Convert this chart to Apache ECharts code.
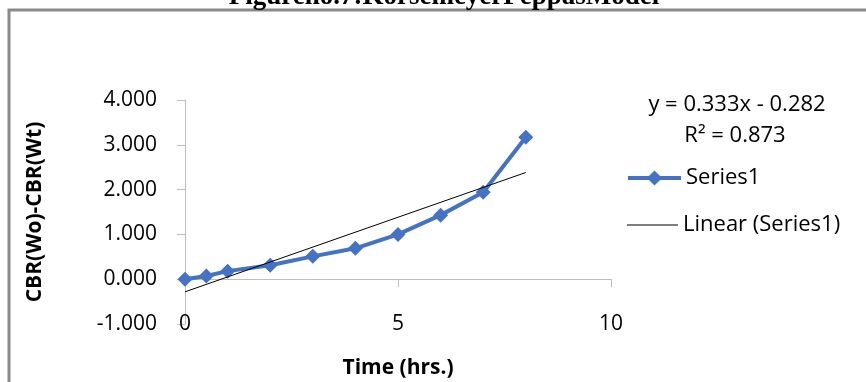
<!DOCTYPE html>
<html>
<head>
<meta charset="utf-8">
<script src="https://cdn.jsdelivr.net/npm/echarts@6/dist/echarts.min.js"></script>
<style>
  html, body { margin: 0; padding: 0; background: #fff; }
  #chart { width: 866px; height: 382px; }
</style>
</head>
<body>
<div id="chart"></div>
<script>
// data
var timeHrs = [0, 0.5, 1, 2, 3, 4, 5, 6, 7, 8];//x
var cbrDiff = [0, 0.07, 0.18, 0.31, 0.51, 0.69, 1.0, 1.43, 1.94, 3.17];//CBR(Wo)-CBR(Wt)
var trendSlope = 0.333;
var trendIntercept = -0.282;
var trendR2 = 0.873;
var xTicks = [0, 5, 10];
var yTicks = [-1, 0, 1, 2, 3, 4];

var seriesName = 'Series1';
var trendName = 'Linear (Series1)';
var labelFont = 'Open Sans';

var points = new Array();
for (var i = 0; i < timeHrs.length; i++) {
    points.push([timeHrs[i], cbrDiff[i]]);
}
// excel trendline spans the data x range
var x0 = timeHrs[0], x1 = timeHrs[timeHrs.length - 1];
var trendPoints = [
    [x0, trendSlope * x0 + trendIntercept],
    [x1, trendSlope * x1 + trendIntercept]
];

var myChart = echarts.init(document.getElementById('chart'));
var option = {
    animation: false,
    backgroundColor: '#fff',
    grid: {
        left: 185,
        right: 255,
        top: 100,
        bottom: 58,
        outerBoundsMode: 'none'
    },
    legend: [
        {
            data: [seriesName],
            left: 626,
            top: 167,
            padding: 0,
            itemWidth: 53,
            itemHeight: 19,
            lineStyle: {width: 4},
            textStyle: {fontFamily: labelFont, fontSize: 22, color: '#000'}
        },
        {
            data: [{name: trendName, icon: 'rect'}],
            left: 627,
            top: 214,
            padding: 0,
            itemWidth: 51,
            itemHeight: 1,
            textStyle: {fontFamily: labelFont, fontSize: 22, color: '#000'}
        }
    ],
    xAxis: [
        {
            // labels only, sitting at the low end like excel
            type: 'value',
            min: xTicks[0],
            max: xTicks[xTicks.length - 1],
            interval: xTicks[1] - xTicks[0],
            position: 'bottom',
            axisLine: {show: false, onZero: false},
            axisTick: {show: false},
            splitLine: {show: false},
            axisLabel: {
                margin: 0,
                verticalAlign: 'middle',
                fontFamily: labelFont,
                fontSize: 21,
                color: '#000'
            },
            name: 'Time (hrs.)',
            nameLocation: 'middle',
            nameGap: 34,
            nameTextStyle: {fontFamily: labelFont, fontSize: 21, fontWeight: 'bold', color: '#000'}
        },
        {
            // the axis line crossing at y = 0
            type: 'value',
            min: xTicks[0],
            max: xTicks[xTicks.length - 1],
            interval: xTicks[1] - xTicks[0],
            position: 'bottom',
            axisLine: {show: true, onZero: true, lineStyle: {color: '#bfbfbf', width: 1}},
            axisTick: {show: true, length: 8, lineStyle: {color: '#bfbfbf'}},
            axisLabel: {show: false},
            splitLine: {show: false}
        }
    ],
    yAxis: [
        {
            type: 'value',
            min: yTicks[0],
            max: yTicks[yTicks.length - 1],
            interval: 1,
            axisLine: {show: true, onZero: false, lineStyle: {color: '#bfbfbf', width: 1}},
            axisTick: {show: true, length: 8, lineStyle: {color: '#bfbfbf'}},
            splitLine: {show: false},
            axisLabel: {
                margin: 28,
                fontFamily: labelFont,
                fontSize: 21,
                color: '#000',
                formatter: function (v) { return v.toFixed(3); }
            },
            name: 'CBR(Wo)-CBR(Wt)',
            nameLocation: 'middle',
            nameGap: 139,
            nameRotate: 90,
            nameTextStyle: {fontFamily: labelFont, fontSize: 21, fontWeight: 'bold', color: '#000'}
        }
    ],
    graphic: [
        {
            type: 'rect',
            shape: {x: 9, y: 10, width: 900, height: 420},
            style: {fill: null, stroke: '#8a8a8a', lineWidth: 3},
            silent: true,
            z: 0
        },
        {
            type: 'text',
            x: 444,
            y: 11,
            style: {
                text: 'Figureno.7:KorsemeyerPeppasModel',
                fontFamily: 'Liberation Serif',
                fontWeight: 'bold',
                fontSize: 27,
                fill: '#000',
                align: 'center',
                verticalAlign: 'bottom'
            },
            z: 1
        },
        {
            type: 'text',
            x: 737,
            y: 105,
            style: {
                text: 'y = ' + trendSlope.toFixed(3) + 'x - ' + Math.abs(trendIntercept).toFixed(3),
                fontFamily: labelFont,
                fontSize: 22,
                fill: '#000',
                align: 'center',
                verticalAlign: 'middle'
            }
        },
        {
            type: 'text',
            x: 735,
            y: 136,
            style: {
                text: 'R² = ' + trendR2.toFixed(3),
                fontFamily: labelFont,
                fontSize: 22,
                fill: '#000',
                align: 'center',
                verticalAlign: 'middle'
            }
        }
    ],
    series: [
        {
            name: seriesName,
            type: 'line',
            xAxisIndex: 0,
            data: points,
            symbol: 'diamond',
            symbolSize: 15,
            lineStyle: {color: '#4472c4', width: 4},
            itemStyle: {color: '#4472c4'},
            z: 3
        },
        {
            name: trendName,
            type: 'line',
            xAxisIndex: 0,
            data: trendPoints,
            symbol: 'none',
            lineStyle: {color: '#000', width: 1},
            itemStyle: {color: '#000'},
            z: 4
        }
    ]
};
myChart.setOption(option);
</script>
</body>
</html>
